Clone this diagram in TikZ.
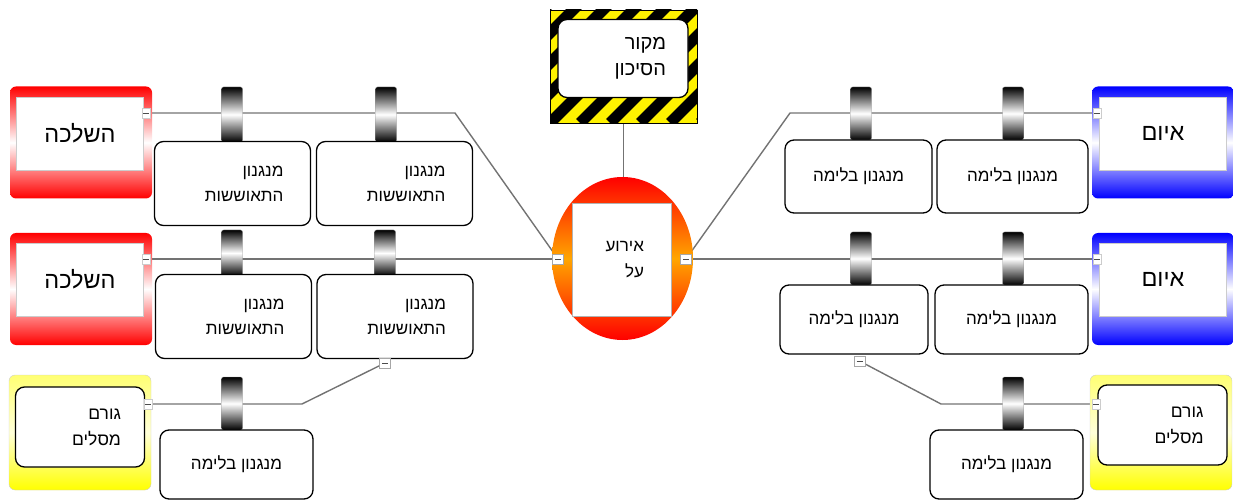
\documentclass[tikz,border=0pt]{standalone}
\usepackage{fontspec}
\newfontfamily\hebfont[Script=Hebrew]{Liberation Sans}
\TeXXeTstate=1
\usetikzlibrary{shapes.geometric,backgrounds}
\newcommand{\heb}[1]{\beginR#1\endR}

\tikzset{
    link/.style={draw=black!55, line width=1.4pt},
    port/.style={draw=gray!70, fill=white, minimum width=11pt, minimum height=10pt, inner sep=0pt,
        path picture={\draw[black!70, line width=0.6pt]
            ([xshift=-3pt]path picture bounding box.center) -- ([xshift=3pt]path picture bounding box.center);}},
    sideport/.style={port, draw=gray!40, minimum width=8pt},
    barrier/.style={minimum width=21pt, inner sep=0pt, rounded corners=2pt,
        top color=black, bottom color=black, middle color=white, draw=black!40, line width=0.4pt},
    ctrl/.style={draw=black, line width=1.3pt, fill=white, rounded corners=9pt,
        font=\hebfont\fontsize{17}{25}\selectfont},
    lctrl/.style={ctrl, minimum width=156pt, minimum height=84pt, text width=102pt, inner xsep=27pt, align=right},
    rctrl/.style={ctrl, minimum width=150pt, minimum height=71pt, align=center},
    conseq/.style={minimum width=142pt, minimum height=112pt, rounded corners=6pt,
        top color=red, bottom color=red, middle color=white},
    threat/.style={conseq, top color=blue, bottom color=blue, middle color=white},
    inbox/.style={fill=white, draw=black!20, minimum width=127pt, minimum height=73pt,
        font=\hebfont\fontsize{23.5}{25}\selectfont},
    escal/.style={minimum width=142pt, minimum height=115pt, rounded corners=6pt, draw=gray!40,
        top color=yellow!55, bottom color=yellow, middle color=yellow!15},
    escin/.style={fill=white, draw=black, line width=1.3pt, rounded corners=9pt, minimum width=129pt,
        minimum height=80pt, text width=82pt, inner xsep=23.5pt, align=right,
        font=\hebfont\fontsize{17.5}{26}\selectfont},
    hazardbox/.style={minimum width=147pt, minimum height=113pt, draw=black, fill=yellow,
        path picture={\foreach \i in {-5,...,5}
            \draw[black, line width=11pt] ([xshift=\i*30pt]path picture bounding box.south west) -- ++(140pt,140pt);}},
    hazardtxt/.style={fill=white, draw=black, line width=1.3pt, rounded corners=9pt, minimum width=130pt,
        minimum height=78pt, text width=86pt, inner xsep=22pt, align=right,
        font=\hebfont\fontsize{20}{26}\selectfont},
    topevent/.style={ellipse, minimum width=141pt, minimum height=163pt, inner sep=0pt,
        top color=red, bottom color=red, middle color=orange!70!yellow},
    eventtxt/.style={fill=white, draw=black!30, minimum width=99pt, minimum height=113pt,
        text width=45pt, inner xsep=27pt, align=right, font=\hebfont\fontsize{17}{26}\selectfont}
}

\begin{document}
\begin{tikzpicture}[x=1pt, y=-1pt]
    \useasboundingbox (0,0) rectangle (1233,502);

    % hazard and top event
    \node[hazardbox] (hazard) at (623.5,66.5) {};
    \node[hazardtxt] (source) at (623,58.5) {\heb{מקור}\\\heb{הסיכון}};
    \node[topevent] (event) at (622.5,258.5) {};
    \node[eventtxt] (eventin) at (621.5,259.5) {\heb{אירוע}\\\heb{על}};
    \node[port] (evL) at (558,259) {};
    \node[port] (evR) at (686,259) {};

    % consequences
    \node[conseq] (cons1) at (81,142.5) {};
    \node[inbox] (cons1in) at (80,133.5) {\heb{השלכה}};
    \node[sideport] (cons1p) at (146,113) {};
    \node[conseq] (cons2) at (81,289) {};
    \node[inbox] (cons2in) at (80,279.5) {\heb{השלכה}};
    \node[sideport] (cons2p) at (146,259) {};
    \node[escal] (esc1) at (80,432.5) {};
    \node[escin] (esc1in) at (80,427) {\heb{גורם}\\\heb{מסלים}};
    \node[sideport] (esc1p) at (148,404) {};

    % threats
    \node[threat] (thr1) at (1163,142.5) {};
    \node[inbox] (thr1in) at (1163,133.5) {\heb{איום}};
    \node[sideport] (thr1p) at (1097,113) {};
    \node[threat] (thr2) at (1163,289) {};
    \node[inbox] (thr2in) at (1163,279.5) {\heb{איום}};
    \node[sideport] (thr2p) at (1097,259) {};
    \node[escal] (esc2) at (1161,432.5) {};
    \node[escin] (esc2in) at (1162.5,425) {\heb{גורם}\\\heb{מסלים}};
    \node[sideport] (esc2p) at (1096,404) {};

    % recovery barriers
    \node[barrier, minimum height=55pt] (bL1a) at (232,114.5) {};
    \node[barrier, minimum height=55pt] (bL1b) at (386,114.5) {};
    \node[barrier, minimum height=46pt] (bL2a) at (232,253) {};
    \node[barrier, minimum height=46pt] (bL2b) at (385,253) {};
    \node[barrier, minimum height=53pt] (bL3) at (232,403.5) {};
    \node[lctrl] (rec1a) at (232.5,183.5) {\heb{מנגנון}\\\heb{התאוששות}};
    \node[lctrl] (rec1b) at (394.5,183.5) {\heb{מנגנון}\\\heb{התאוששות}};
    \node[lctrl] (rec2a) at (233.5,316.5) {\heb{מנגנון}\\\heb{התאוששות}};
    \node[lctrl] (rec2b) at (395,316.5) {\heb{מנגנון}\\\heb{התאוששות}};
    \node[rctrl, minimum width=153pt, minimum height=69pt] (stop3l) at (236.5,464.5) {\heb{מנגנון בלימה}};
    \node[port] (rec2bp) at (385,363) {};

    % prevention barriers
    \node[barrier, minimum height=53pt] (bR1a) at (861,113.5) {};
    \node[barrier, minimum height=53pt] (bR1b) at (1013,113.5) {};
    \node[barrier, minimum height=53pt] (bR2a) at (861,258.5) {};
    \node[barrier, minimum height=53pt] (bR2b) at (1013,258.5) {};
    \node[barrier, minimum height=53pt] (bR3) at (1013,403.5) {};
    \node[rctrl, minimum width=147pt, minimum height=73pt] (stop1a) at (858.5,176.5) {\heb{מנגנון בלימה}};
    \node[rctrl, minimum width=151pt, minimum height=73pt] (stop1b) at (1012.5,176.5) {\heb{מנגנון בלימה}};
    \node[rctrl, minimum width=148pt, minimum height=69pt] (stop2a) at (854,319.5) {\heb{מנגנון בלימה}};
    \node[rctrl, minimum width=153pt, minimum height=69pt] (stop2b) at (1011.5,319.5) {\heb{מנגנון בלימה}};
    \node[rctrl, minimum width=153pt, minimum height=69pt] (stop3r) at (1006.5,464.5) {\heb{מנגנון בלימה}};
    \node[port] (stop2ap) at (859.5,361) {};

    \coordinate (bendL1) at (455,113);
    \coordinate (bendL3) at (302,404);
    \coordinate (bendR1) at (790,113);
    \coordinate (bendR3) at (941,404);

    % connectors
    \begin{scope}[on background layer]
        \draw[link] (hazard.south) -- (hazard.south |- event.north);
        \draw[link] (cons1p) -- (bendL1) -- (evL);
        \draw[link] (cons2p) -- (evL);
        \draw[link] (esc1p) -- (bendL3) -- (rec2bp);
        \draw[link] (evR) -- (bendR1) -- (thr1p);
        \draw[link] (evR) -- (thr2p);
        \draw[link] (stop2ap) -- (bendR3) -- (esc2p);
    \end{scope}

\end{tikzpicture}
\end{document}
